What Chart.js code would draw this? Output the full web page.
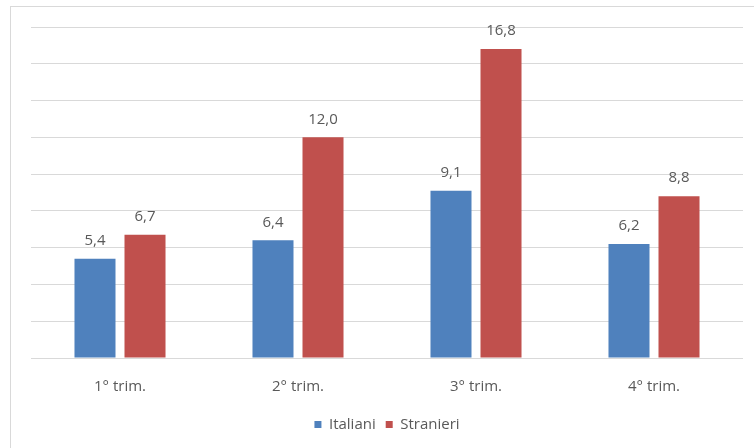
<!DOCTYPE html>
<html lang="it">
<head>
  <meta charset="UTF-8">
  <script src="https://cdn.jsdelivr.net/npm/chart.js"></script>
  <title>Italiani e Stranieri per trimestre</title>
  <style>
    body {
      margin: 0;
      padding: 0;
      background-color: #fff;
      overflow: hidden;
    }

    .frame {
      position: absolute;
      left: 10px;
      top: 6px;
      width: 760px;
      height: 460px;
      border-left: 1px solid #d9d9d9;
      border-top: 1px solid #d9d9d9;
    }

    .wrap {
      position: absolute;
      left: 0;
      top: 0;
      width: 754px;
      height: 448px;
    }
  </style>
</head>
<body>
<div class="frame"></div>
<div class="wrap">
  <canvas id="barChart" width="754" height="448"></canvas>
</div>

<script>
  const categories = ['1° trim.', '2° trim.', '3° trim.', '4° trim.'];
  const italiani = [5.4, 6.4, 9.1, 6.2];
  const stranieri = [6.7, 12.0, 16.8, 8.8];
  const seriesNames = ['Italiani', 'Stranieri'];

  const textColor = '#595959';
  const fontFamily = '"Open Sans", sans-serif';

  // value labels above bars, Italian decimal comma
  const valueLabels = {
    id: 'valueLabels',
    afterDatasetsDraw(chart) {
      const ctx = chart.ctx;
      ctx.save();
      ctx.fillStyle = textColor;
      ctx.font = '15px ' + fontFamily;
      ctx.textAlign = 'center';
      ctx.textBaseline = 'middle';
      chart.data.datasets.forEach((ds, i) => {
        chart.getDatasetMeta(i).data.forEach((bar, j) => {
          const txt = ds.data[j].toFixed(1).replace('.', ',');
          ctx.fillText(txt, bar.x, bar.y - 18);
        });
      });
      ctx.restore();
    }
  };

  const ctx = document.getElementById('barChart').getContext('2d');
  const chart = new Chart(ctx, {
    type: 'bar',
    data: {
      labels: categories,
      datasets: [
        {
          label: seriesNames[0],
          data: italiani,
          backgroundColor: '#4F81BD',
          categoryPercentage: 0.562,
          barPercentage: 0.82,
        },
        {
          label: seriesNames[1],
          data: stranieri,
          backgroundColor: '#C0504D',
          categoryPercentage: 0.562,
          barPercentage: 0.82,
        },
      ],
    },
    options: {
      responsive: false,
      animation: false,
      layout: {
        padding: { left: 31, right: 11, top: 27, bottom: 6 }
      },
      scales: {
        x: {
          grid: { display: false },
          border: { display: false },
          ticks: {
            color: textColor,
            font: { family: fontFamily, size: 15 },
            padding: 12,
          },
          afterFit(scale) { scale.height = 49; },
        },
        y: {
          min: 0,
          max: 18,
          ticks: { display: false, stepSize: 2 },
          grid: { color: '#d9d9d9', drawTicks: false },
          border: { display: false },
        },
      },
      plugins: {
        legend: {
          position: 'bottom',
          labels: {
            color: textColor,
            font: { family: fontFamily, size: 15 },
            boxWidth: 7,
            boxHeight: 7,
            padding: 10,
          },
        },
        tooltip: { enabled: false },
      },
    },
    plugins: [valueLabels],
  });
</script>
</body>
</html>
